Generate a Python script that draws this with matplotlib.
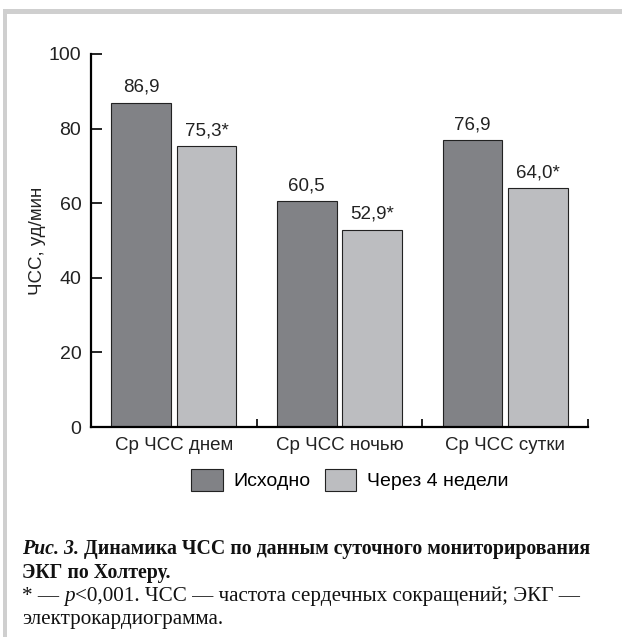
import numpy as np
import matplotlib
matplotlib.use("Agg")
import matplotlib.pyplot as plt
from matplotlib.patches import Rectangle

plt.rcParams['font.family'] = ['Liberation Sans', 'DejaVu Sans']

categories = ["Ср ЧСС днем", "Ср ЧСС ночью", "Ср ЧСС сутки"]
baseline = [86.9, 60.5, 76.9]
week4 = [75.3, 52.9, 64.0]
baseline_labels = ["86,9", "60,5", "76,9"]
week4_labels = ["75,3*", "52,9*", "64,0*"]
series_names = ["Исходно", "Через 4 недели"]
yticks = [0, 20, 40, 60, 80, 100]

dark = "#818286"
light = "#bcbdc0"

fig = plt.figure(figsize=(6.22, 6.37), dpi=100)

# grey frame of the page
fig.patches.append(Rectangle((3 / 622, 1 - 14 / 637), 619 / 622, 5 / 637,
                             transform=fig.transFigure, color="#cfcfcf", lw=0))
fig.patches.append(Rectangle((3 / 622, 0), 4 / 622, 1 - 9 / 637,
                             transform=fig.transFigure, color="#cfcfcf", lw=0))

ax = fig.add_axes([91 / 622, 1 - 427 / 637, 497 / 622, 373 / 637])
x = np.arange(len(categories)) + 0.5
w = 0.36
ax.bar(x - 0.198, baseline, w, color=dark, edgecolor="#222222", lw=0.8)
ax.bar(x + 0.198, week4, w, color=light, edgecolor="#222222", lw=0.8)
for xi, v, s in zip(x - 0.198, baseline, baseline_labels):
    ax.annotate(s, (xi, v), xytext=(0, 5), textcoords="offset points",
                ha="center", va="bottom", fontsize=13.5, color="#222222")
for xi, v, s in zip(x + 0.198, week4, week4_labels):
    ax.annotate(s, (xi, v), xytext=(0, 5), textcoords="offset points",
                ha="center", va="bottom", fontsize=13.5, color="#222222")

ax.set_xlim(0, 3)
ax.set_ylim(0, 100)
ax.set_yticks(yticks)
ax.set_xticks([0, 1, 2, 3])
ax.set_xticklabels([])
ax.set_xticks(x, minor=True)
ax.set_xticklabels(categories, minor=True, fontsize=13.5, color="#222222")
ax.tick_params(axis="x", which="minor", length=0, pad=7)
ax.tick_params(axis="x", which="major", direction="in", length=5.5, width=1.2)
ax.tick_params(axis="y", direction="in", length=8, width=1.2, labelsize=14,
               pad=7, labelcolor="#222222")
for sp in ["top", "right"]:
    ax.spines[sp].set_visible(False)
for sp in ["left", "bottom"]:
    ax.spines[sp].set_linewidth(1.6)
ax.set_ylabel("ЧСС, уд/мин", fontsize=13.5, color="#222222", labelpad=2)

# legend below the axis
h1 = Rectangle((0, 0), 1, 1, facecolor=dark, edgecolor="#222222", lw=0.8)
h2 = Rectangle((0, 0), 1, 1, facecolor=light, edgecolor="#222222", lw=0.8)
fig.legend([h1, h2], series_names, loc="center", bbox_to_anchor=(350 / 622, 1 - 480 / 637),
           ncol=2, frameon=False, fontsize=14, handlelength=1.6, handleheight=1.4,
           handletextpad=0.57, columnspacing=0.72, borderpad=0)

# caption
fig.canvas.draw()
renderer = fig.canvas.get_renderer()


def write_line(pieces, x0, y0, size):
    xpos = x0
    for txt, weight, style in pieces:
        t = fig.text(xpos, y0, txt, fontsize=size, weight=weight, style=style,
                     family=['Liberation Serif', 'DejaVu Serif'], color="#111111",
                     va="baseline", ha="left")
        bb = t.get_window_extent(renderer)
        xpos += bb.width / fig.bbox.width


left = 22 / 622
write_line([("Рис. 3.", "bold", "italic"),
            (" Динамика ЧСС по данным суточного мониторирования", "bold", "normal")],
           left, 1 - 554 / 637, 14.3)
write_line([("ЭКГ по Холтеру.", "bold", "normal")], left, 1 - 578 / 637, 14.3)
write_line([("* — ", "normal", "normal"), ("p", "normal", "italic"),
            ("<0,001. ЧСС — частота сердечных сокращений; ЭКГ —", "normal", "normal")],
           left, 1 - 601 / 637, 15.2)
write_line([("электрокардиограмма.", "normal", "normal")], left, 1 - 624 / 637, 15.2)

fig.savefig("out.png", dpi=100)
